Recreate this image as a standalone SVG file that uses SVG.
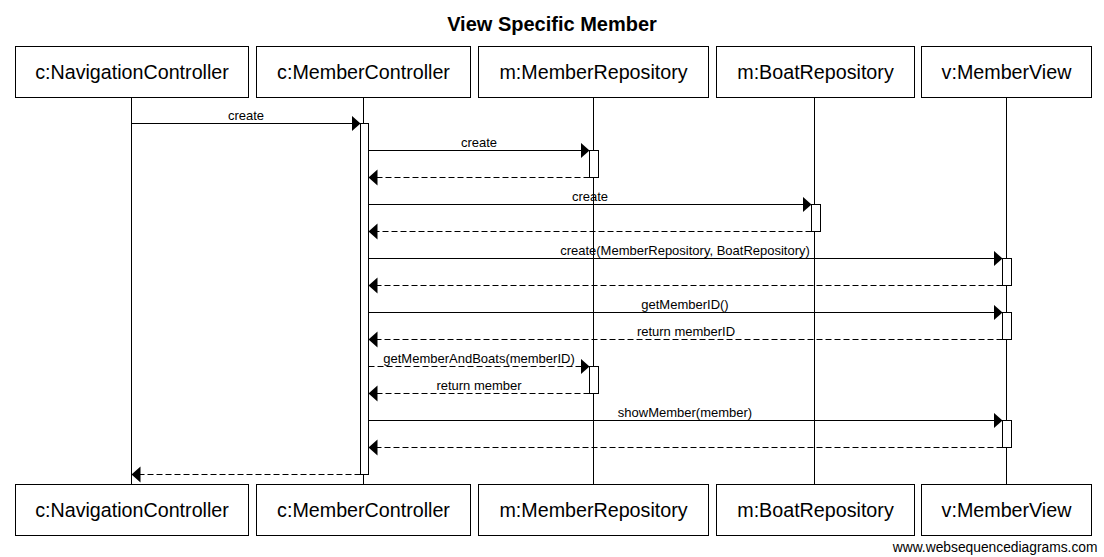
<svg xmlns="http://www.w3.org/2000/svg" width="1104" height="557" viewBox="0 0 1104 557">
<defs>
<style>
.box{fill:#fff;stroke:#000;stroke-width:1}
.bt{font-family:"Liberation Sans",Arial,sans-serif;font-size:19.7px;fill:#000;text-anchor:middle}
.life{stroke:#000;stroke-width:1;fill:none}
.act{fill:#fff;stroke:#000;stroke-width:1}
.msg{stroke:#000;stroke-width:1;fill:none;marker-end:url(#ah)}
.dash{stroke-dasharray:6,3}
.lbl{font-family:"Liberation Sans",Arial,sans-serif;font-size:13px;fill:#000;text-anchor:middle}
.title{font-family:"Liberation Sans",Arial,sans-serif;font-size:20px;font-weight:bold;fill:#000;text-anchor:middle}
</style>
<marker id="ah" markerUnits="userSpaceOnUse" markerWidth="10" markerHeight="17" refX="9" refY="8" orient="auto" viewBox="0 0 10 17">
<path d="M0,0 L9,8 L0,16 Z" fill="#000" stroke="none"/>
</marker>
</defs>
<rect width="1104" height="557" fill="#fff"/>
<text class="title" x="552" y="30.5">View Specific Member</text>

<g id="lifelines">
<line class="life" x1="131.5" y1="97.5" x2="131.5" y2="484.5"/>
<line class="life" x1="363.5" y1="97.5" x2="363.5" y2="484.5"/>
<line class="life" x1="593.5" y1="97.5" x2="593.5" y2="484.5"/>
<line class="life" x1="814.5" y1="97.5" x2="814.5" y2="484.5"/>
<line class="life" x1="1006.5" y1="97.5" x2="1006.5" y2="484.5"/>
</g>

<g id="node-navigationcontroller">
<rect class="box" x="15.5" y="46.5" width="233" height="51"/>
<text class="bt" x="132" y="78.5">c:NavigationController</text>
<rect class="box" x="15.5" y="484.5" width="233" height="51"/>
<text class="bt" x="132" y="517">c:NavigationController</text>
</g>
<g id="node-membercontroller">
<rect class="box" x="256.5" y="46.5" width="214" height="51"/>
<text class="bt" x="363.5" y="78.5">c:MemberController</text>
<rect class="box" x="256.5" y="484.5" width="214" height="51"/>
<text class="bt" x="363.5" y="517">c:MemberController</text>
<rect class="act" x="360.5" y="123.5" width="8" height="351"/>
</g>
<g id="node-memberrepository">
<rect class="box" x="478.5" y="46.5" width="230" height="51"/>
<text class="bt" x="593.5" y="78.5">m:MemberRepository</text>
<rect class="box" x="478.5" y="484.5" width="230" height="51"/>
<text class="bt" x="593.5" y="517">m:MemberRepository</text>
<rect class="act" x="589.5" y="150.5" width="9" height="27"/>
<rect class="act" x="589.5" y="366.5" width="9" height="27"/>
</g>
<g id="node-boatrepository">
<rect class="box" x="716.5" y="46.5" width="198" height="51"/>
<text class="bt" x="815.5" y="78.5">m:BoatRepository</text>
<rect class="box" x="716.5" y="484.5" width="198" height="51"/>
<text class="bt" x="815.5" y="517">m:BoatRepository</text>
<rect class="act" x="811.5" y="204.5" width="9" height="27"/>
</g>
<g id="node-memberview">
<rect class="box" x="921.5" y="46.5" width="170" height="51"/>
<text class="bt" x="1006.5" y="78.5">v:MemberView</text>
<rect class="box" x="921.5" y="484.5" width="170" height="51"/>
<text class="bt" x="1006.5" y="517">v:MemberView</text>
<rect class="act" x="1002.5" y="258.5" width="9" height="27"/>
<rect class="act" x="1002.5" y="312.5" width="9" height="27"/>
<rect class="act" x="1002.5" y="420.5" width="9" height="27"/>
</g>

<g id="connectors">
<line class="msg" x1="131.5" y1="123.5" x2="360.5" y2="123.5"/>
<text class="lbl" x="246" y="120">create</text>

<line class="msg" x1="368.5" y1="150.5" x2="589.5" y2="150.5"/>
<text class="lbl" x="479" y="147">create</text>
<line class="msg dash" x1="589.5" y1="177.5" x2="368.5" y2="177.5"/>

<line class="msg" x1="368.5" y1="204.5" x2="811.5" y2="204.5"/>
<text class="lbl" x="590" y="201">create</text>
<line class="msg dash" x1="811.5" y1="231.5" x2="368.5" y2="231.5"/>

<line class="msg" x1="368.5" y1="258.5" x2="1002.5" y2="258.5"/>
<text class="lbl" x="685" y="255">create(MemberRepository, BoatRepository)</text>
<line class="msg dash" x1="1002.5" y1="285.5" x2="368.5" y2="285.5"/>

<line class="msg" x1="368.5" y1="312.5" x2="1002.5" y2="312.5"/>
<text class="lbl" x="685" y="309">getMemberID()</text>
<line class="msg dash" x1="1002.5" y1="339.5" x2="368.5" y2="339.5"/>
<text class="lbl" x="686" y="336">return memberID</text>

<line class="msg dash" x1="368.5" y1="366.5" x2="589.5" y2="366.5"/>
<text class="lbl" x="479" y="363">getMemberAndBoats(memberID)</text>
<line class="msg dash" x1="589.5" y1="393.5" x2="368.5" y2="393.5"/>
<text class="lbl" x="479" y="390">return member</text>

<line class="msg" x1="368.5" y1="420.5" x2="1002.5" y2="420.5"/>
<text class="lbl" x="685" y="417">showMember(member)</text>
<line class="msg dash" x1="1002.5" y1="447.5" x2="368.5" y2="447.5"/>

<line class="msg dash" x1="360.5" y1="474.5" x2="131.5" y2="474.5"/>
</g>

<text x="1097.5" y="552" font-family="'Liberation Sans',Arial,sans-serif" font-size="13.8" text-anchor="end" fill="#000">www.websequencediagrams.com</text>
</svg>
